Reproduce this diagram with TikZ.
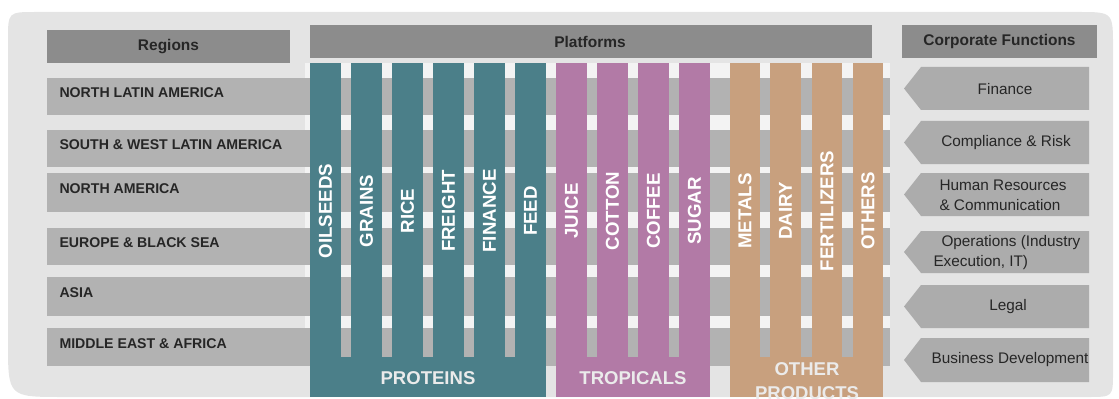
\documentclass[tikz,border=0pt]{standalone}
\usepackage{fontspec}
\setmainfont{Liberation Sans}

\definecolor{bgGray}{RGB}{228,228,228}
\definecolor{headGray}{RGB}{140,140,140}
\definecolor{rowGray}{RGB}{178,178,178}
\definecolor{funcGray}{RGB}{172,172,172}
\definecolor{protTeal}{RGB}{75,127,137}
\definecolor{tropMauve}{RGB}{178,122,166}
\definecolor{otherTan}{RGB}{200,160,126}

\tikzset{every picture/.style={line width=0.75pt}}
\tikzset{
  headtxt/.style={inner sep=0.75pt, font=\fontsize{11.6}{14}\selectfont\bfseries, text=black!85},
  regiontxt/.style={anchor=west, inner sep=0.75pt, font=\fontsize{10.6}{12}\selectfont\bfseries, text=black!85},
  coltxt/.style={rotate=90, inner sep=0.75pt, font=\fontsize{14}{16}\selectfont\bfseries, text=white},
  grouptxt/.style={inner sep=0.75pt, align=center, font=\fontsize{13.9}{18}\selectfont\bfseries, text=white!92!black},
  functxt/.style={inner sep=0.75pt, font=\fontsize{11.5}{15}\selectfont, text=black!85}
}

\begin{document}
\begin{tikzpicture}[x=0.75pt,y=0.75pt,yscale=-1,xscale=1]
	\useasboundingbox (0,0) rectangle (1119,399);
	
	%Shape: Background
	\fill [bgGray] (8,40) .. controls (8,12) and (8,12) .. (36,12) -- (1078,12) .. controls (1113,12) and (1113,12) .. (1113,47) -- (1113,372) .. controls (1113,397) and (1113,397) .. (1088,397) -- (63,397) .. controls (8,397) and (8,397) .. (8,342) -- cycle ;
	%Shape: Platform area
	\fill [white!55!bgGray] (305,63) rectangle (890,357) ;
	
	%Shape: Headers
	\fill [headGray] (47,30) rectangle (290,63) ;
	\fill [headGray] (310,25) rectangle (872,58) ;
	\fill [headGray] (902,25) rectangle (1097,58) ;
	
	%Shape: Region rows
	\fill [rowGray] (47,78) rectangle (890,115) ;
	\fill [rowGray] (47,130) rectangle (890,167) ;
	\fill [rowGray] (47,173) rectangle (890,212) ;
	\fill [rowGray] (47,228) rectangle (890,265) ;
	\fill [rowGray] (47,277) rectangle (890,316) ;
	\fill [rowGray] (47,328) rectangle (890,366) ;
	
	%Shape: Proteins columns
	\fill [protTeal] (310,63) rectangle (341,397) ;
	\fill [protTeal] (351,63) rectangle (382,397) ;
	\fill [protTeal] (392,63) rectangle (423,397) ;
	\fill [protTeal] (433,63) rectangle (464,397) ;
	\fill [protTeal] (474,63) rectangle (505,397) ;
	\fill [protTeal] (515,63) rectangle (546,397) ;
	\fill [protTeal] (310,357) rectangle (546,397) ;
	%Shape: Tropicals columns
	\fill [tropMauve] (556,63) rectangle (587,397) ;
	\fill [tropMauve] (597,63) rectangle (628,397) ;
	\fill [tropMauve] (638,63) rectangle (669,397) ;
	\fill [tropMauve] (679,63) rectangle (710,397) ;
	\fill [tropMauve] (556,357) rectangle (710,397) ;
	%Shape: Other products columns
	\fill [otherTan] (730,63) rectangle (760,397) ;
	\fill [otherTan] (770,63) rectangle (801,397) ;
	\fill [otherTan] (812,63) rectangle (842,397) ;
	\fill [otherTan] (853,63) rectangle (883,397) ;
	\fill [otherTan] (730,357) rectangle (883,397) ;
	
	%Shape: Corporate function chevrons
	\fill [funcGray] (904,88.5) -- (921,67) -- (1089,67) -- (1089,110) -- (921,110) -- cycle ;
	\fill [funcGray] (904,142.5) -- (921,121) -- (1089,121) -- (1089,164) -- (921,164) -- cycle ;
	\fill [funcGray] (904,194.5) -- (921,173) -- (1089,173) -- (1089,216) -- (921,216) -- cycle ;
	\fill [funcGray] (904,252) -- (921,231) -- (1089,231) -- (1089,273) -- (921,273) -- cycle ;
	\fill [funcGray] (904,306.5) -- (921,285) -- (1089,285) -- (1089,328) -- (921,328) -- cycle ;
	\fill [funcGray] (904,360) -- (921,338) -- (1089,338) -- (1089,382) -- (921,382) -- cycle ;
	
	% Text Node
	\draw (168.5,46.5) node [headtxt] (hRegions) {Regions};
	% Text Node
	\draw (590,41.5) node [headtxt] (hPlatforms) {Platforms};
	% Text Node
	\draw (999.5,41.5) node [headtxt] (hCorporate) {Corporate Functions};
	
	% Text Node
	\draw (58,93) node [regiontxt] (rNorthLatam) {NORTH LATIN AMERICA};
	% Text Node
	\draw (58,145) node [regiontxt] (rSouthLatam) {SOUTH \& WEST LATIN AMERICA};
	% Text Node
	\draw (58,189) node [regiontxt] (rNorthAm) {NORTH AMERICA};
	% Text Node
	\draw (58,243) node [regiontxt] (rEurope) {EUROPE \& BLACK SEA};
	% Text Node
	\draw (58,293) node [regiontxt] (rAsia) {ASIA};
	% Text Node
	\draw (58,343.5) node [regiontxt] (rMidEast) {MIDDLE EAST \& AFRICA};
	
	% Text Node
	\draw (325.5,211) node [coltxt] (pOilseeds) {OILSEEDS};
	% Text Node
	\draw (366.5,211) node [coltxt] (pGrains) {GRAINS};
	% Text Node
	\draw (407.5,211) node [coltxt] (pRice) {RICE};
	% Text Node
	\draw (448.5,211) node [coltxt] (pFreight) {FREIGHT};
	% Text Node
	\draw (489.5,211) node [coltxt] (pFinance) {FINANCE};
	% Text Node
	\draw (530.5,211) node [coltxt] (pFeed) {FEED};
	% Text Node
	\draw (571.5,211) node [coltxt] (pJuice) {JUICE};
	% Text Node
	\draw (612.5,211) node [coltxt] (pCotton) {COTTON};
	% Text Node
	\draw (653.5,211) node [coltxt] (pCoffee) {COFFEE};
	% Text Node
	\draw (694.5,211) node [coltxt] (pSugar) {SUGAR};
	% Text Node
	\draw (745,211) node [coltxt] (pMetals) {METALS};
	% Text Node
	\draw (785.5,211) node [coltxt] (pDairy) {DAIRY};
	% Text Node
	\draw (827,211) node [coltxt] (pFertilizers) {FERTILIZERS};
	% Text Node
	\draw (868,211) node [coltxt] (pOthers) {OTHERS};
	
	% Text Node
	\draw (428,378) node [grouptxt] (gProteins) {PROTEINS};
	% Text Node
	\draw (633,378) node [grouptxt] (gTropicals) {TROPICALS};
	% Text Node
	\draw (807,381) node [grouptxt] (gOther) {OTHER\\PRODUCTS};
	
	% Text Node
	\draw (1005,89) node [functxt] (fFinance) {Finance};
	% Text Node
	\draw (1006,143) node [functxt] (fCompliance) {Compliance \& Risk};
	% Text Node
	\draw (938,195) node [functxt, anchor=west, align=left] (fHuman) {Human Resources\\\& Communication};
	% Text Node
	\draw (932,252.5) node [functxt, anchor=west, align=left] (fOperations) {\hspace*{6pt}Operations (Industry\\Execution, IT)};
	% Text Node
	\draw (1008,307) node [functxt] (fLegal) {Legal};
	% Text Node
	\draw (1010,360) node [functxt] (fBusiness) {Business Development};
	
\end{tikzpicture}
\end{document}
